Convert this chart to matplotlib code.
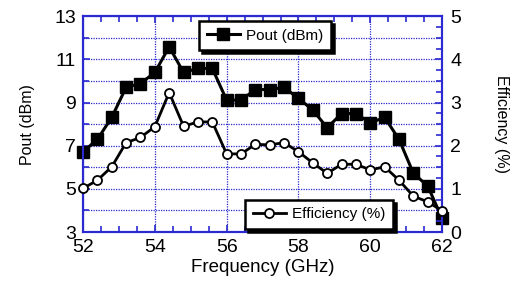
import matplotlib.pyplot as plt
import numpy as np
from matplotlib.ticker import MultipleLocator

plt.rcParams['font.family'] = ['Liberation Sans', 'DejaVu Sans']

# frequency points (GHz)
freq = [52.0, 52.4, 52.8, 53.2, 53.6, 54.0, 54.4, 54.8, 55.2, 55.6, 56.0, 56.4, 56.8,
        57.2, 57.6, 58.0, 58.4, 58.8, 59.2, 59.6, 60.0, 60.4, 60.8, 61.2, 61.6, 62.0]
pout = [6.72, 7.29, 8.31, 9.70, 9.88, 10.39, 11.58, 10.39, 10.58, 10.58, 9.11, 9.11, 9.6,
        9.6, 9.70, 9.19, 8.65, 7.83, 8.49, 8.49, 8.06, 8.31, 7.29, 5.72, 5.13, 3.63]
eff = [1.01, 1.20, 1.51, 2.07, 2.19, 2.44, 3.23, 2.45, 2.55, 2.55, 1.81, 1.81, 2.03,
       2.02, 2.07, 1.86, 1.60, 1.36, 1.57, 1.57, 1.44, 1.51, 1.20, 0.83, 0.70, 0.49]
pout_ticks = [3, 5, 7, 9, 11, 13]

blue = '#2a2ad0'

fig = plt.figure(figsize=(5.22, 2.83), dpi=100)
ax = fig.add_axes([0.159, 0.180, 0.688, 0.763])
ax2 = ax.twinx()

l1, = ax.plot(freq, pout, '-s', color='black', lw=2.2, ms=8.5, mfc='black', mec='black',
              label='Pout (dBm)', clip_on=False, zorder=5)
l2, = ax2.plot(freq, eff, '-o', color='black', lw=2.0, ms=6.5, mfc='white', mec='black', mew=1.3,
               label='Efficiency (%)', clip_on=False, zorder=5)

ax.set_xlim(52, 62)
ax.set_ylim(3, 13)
ax2.set_ylim(0, 5)
ax.xaxis.set_major_locator(MultipleLocator(2))
ax.xaxis.set_minor_locator(MultipleLocator(0.5))
ax.set_yticks(pout_ticks)
ax.yaxis.set_minor_locator(MultipleLocator(1))
ax2.yaxis.set_major_locator(MultipleLocator(1))
ax2.yaxis.set_minor_locator(MultipleLocator(0.25))

ax.grid(True, which='major', axis='x', color=blue, ls=(0, (1, 1)), lw=0.9)
ax.grid(True, which='both', axis='y', color=blue, ls=(0, (1, 1)), lw=0.9)

for a in (ax, ax2):
    for s in a.spines.values():
        s.set_color(blue)
        s.set_linewidth(1.5)
    a.tick_params(which='both', direction='in', color=blue, labelsize=14, width=1.2)
    a.tick_params(which='major', length=5)
    a.tick_params(which='minor', length=4)
ax.tick_params(which='both', top=True)
ax.tick_params(axis='x', pad=5)
ax.tick_params(axis='y', pad=5)
ax2.tick_params(axis='y', pad=6)

ax.set_xlabel('Frequency (GHz)', fontsize=13.5, labelpad=2)
ax.set_ylabel('Pout (dBm)', fontsize=11.5, labelpad=14)
ax2.set_ylabel('Efficiency (%)', fontsize=11.5, rotation=270, labelpad=34)

leg_kw = dict(fancybox=False, edgecolor='black', fontsize=11, borderaxespad=0,
              handlelength=2.2, handletextpad=0.4, borderpad=0.5,
              shadow={'color': 'black', 'alpha': 1})
lg1 = ax2.legend(handles=[l1], loc='upper left', bbox_to_anchor=(0.323, 0.977), **leg_kw)
lg1.get_frame().set_linewidth(1.8)
ax2.add_artist(lg1)
lg2 = ax2.legend(handles=[l2], loc='lower left', bbox_to_anchor=(0.451, 0.014), **leg_kw)
lg2.get_frame().set_linewidth(1.8)

fig.savefig('out.png', dpi=100)
